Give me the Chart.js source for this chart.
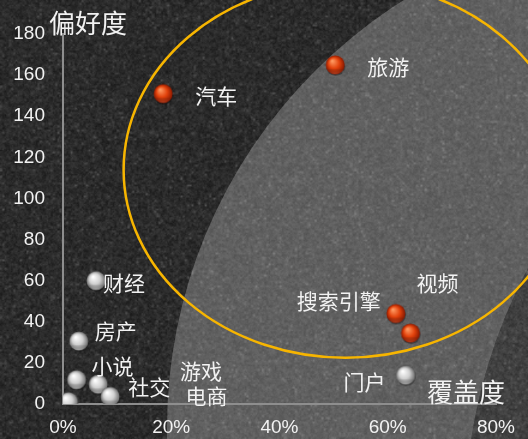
<!DOCTYPE html>
<html>
<head>
<meta charset="utf-8">
<script src="https://cdn.jsdelivr.net/npm/chart.js@4/dist/chart.umd.min.js"></script>
<style>
  html, body { margin: 0; padding: 0; background: #2a2a2a; }
  #wrap { width: 528px; height: 439px; }
</style>
</head>
<body>
<div id="wrap"><canvas id="chart" width="528" height="439"></canvas></div>
<script>
// coverage (%) vs preference, two groups of categories
const hotNames = ['汽车', '旅游', '搜索引擎', '视频'];
const hotCoverage = [18.5, 50.3, 61.5, 64.2];
const hotPreference = [151, 165, 44, 34.5];

const otherNames = ['门户', '财经', '房产', '小说', '社交', '游戏', '电商'];
const otherCoverage = [63.3, 6.1, 2.9, 2.5, 6.5, 8.7, 1.0];
const otherPreference = [14, 60, 30.6, 11.8, 9.6, 3.7, 1.1];

const xTicks = [0, 20, 40, 60, 80];
const yTicks = [0, 20, 40, 60, 80, 100, 120, 140, 160, 180];

// where each name sits relative to its ball (px)
const labelOffset = {
  '汽车': [53, 2], '旅游': [53, 2], '搜索引擎': [-57, -13], '视频': [27, -50],
  '门户': [-41, 7], '财经': [28, 2], '房产': [37, -10], '小说': [36, -14],
  '社交': [51, 3], '游戏': [91, -25], '电商': [138, -6]
};

const TEXT = '#f2f2f2';
const CJK = '"Noto Sans CJK SC", "Noto Sans", sans-serif';

function mulberry32(a) {
  return function () {
    a |= 0; a = a + 0x6D2B79F5 | 0;
    let t = Math.imul(a ^ a >>> 15, 1 | a);
    t = t + Math.imul(t ^ t >>> 7, 61 | t) ^ t;
    return ((t ^ t >>> 14) >>> 0) / 4294967296;
  };
}

// one layer of grain, drawn small and stretched so the specks go soft
function grainLayer(w, h, step, base, spread, flecks, seed) {
  const rnd = mulberry32(seed);
  const sw = Math.ceil(w / step), sh = Math.ceil(h / step);
  const c = document.createElement('canvas');
  c.width = sw; c.height = sh;
  const g = c.getContext('2d');
  const img = g.createImageData(sw, sh);
  for (let i = 0; i < sw * sh; i++) {
    let v = base + (rnd() - 0.5) * spread;
    if (rnd() > 0.9) v += flecks * rnd();
    img.data[i * 4] = img.data[i * 4 + 1] = img.data[i * 4 + 2] = v;
    img.data[i * 4 + 3] = 255;
  }
  g.putImageData(img, 0, 0);
  return c;
}

function makeGrain(w, h) {
  const big = document.createElement('canvas');
  big.width = w; big.height = h;
  const b = big.getContext('2d');
  b.imageSmoothingEnabled = true;
  b.drawImage(grainLayer(w, h, 2.2, 42, 34, 50, 11), 0, 0, w, h);
  b.globalAlpha = 0.35;
  b.drawImage(grainLayer(w, h, 1.2, 44, 40, 30, 29), 0, 0, w, h);
  return big;
}

function makeBall(light, mid, dark, rim) {
  const c = document.createElement('canvas');
  c.width = 24; c.height = 24;
  const g = c.getContext('2d');
  const cx = 12, cy = 12, r = 9.5;
  g.fillStyle = 'rgba(0,0,0,0.35)';
  g.beginPath(); g.ellipse(cx + 0.5, cy + 1.5, r, r, 0, 0, Math.PI * 2); g.fill();
  const grad = g.createRadialGradient(cx - 3, cy - 4, 0.5, cx, cy, r);
  grad.addColorStop(0, light);
  grad.addColorStop(0.55, mid);
  grad.addColorStop(1, dark);
  g.fillStyle = grad;
  g.beginPath(); g.arc(cx, cy, r, 0, Math.PI * 2); g.fill();
  // soft reflection along the lower edge
  const lo = g.createLinearGradient(0, cy + 3, 0, cy + r);
  lo.addColorStop(0, 'rgba(0,0,0,0)');
  lo.addColorStop(1, rim);
  g.fillStyle = lo;
  g.beginPath(); g.arc(cx, cy, r - 0.5, 0.15 * Math.PI, 0.85 * Math.PI); g.fill();
  return c;
}

const redBall = makeBall('#ff9a62', '#e2420c', '#861800', 'rgba(255,120,80,0.45)');
const silverBall = makeBall('#ffffff', '#cfcfcf', '#6c6c6c', 'rgba(255,255,255,0.45)');

let grain = null;

const backdrop = {
  id: 'backdrop',
  beforeDraw(chart) {
    const { ctx, width, height } = chart;
    if (!grain) grain = makeGrain(width, height);
    ctx.save();
    ctx.drawImage(grain, 0, 0);
    // pale band sweeping in from the right, with a dimmer bite in the corner
    ctx.save();
    ctx.beginPath();
    ctx.rect(0, 0, width, height);
    ctx.arc(1000, 520, 535, 0, Math.PI * 2);
    ctx.clip('evenodd');
    ctx.beginPath();
    ctx.arc(672, 428, 505, 0, Math.PI * 2);
    ctx.fillStyle = 'rgba(255,255,255,0.25)';
    ctx.fill();
    ctx.restore();
    ctx.beginPath();
    ctx.arc(1000, 520, 535, 0, Math.PI * 2);
    ctx.fillStyle = 'rgba(255,255,255,0.1)';
    ctx.fill();
    ctx.restore();
  }
};

const highlight = {
  id: 'highlight',
  beforeDatasetsDraw(chart) {
    const { ctx, scales: { x, y } } = chart;
    const cx = x.getPixelForValue(52.2), cy = y.getPixelForValue(114);
    const rx = x.getPixelForValue(52.2 + 41) - cx;
    const ry = y.getPixelForValue(114) - y.getPixelForValue(114 + 91.5);
    ctx.save();
    ctx.strokeStyle = '#f7b500';
    ctx.lineWidth = 2.5;
    ctx.beginPath();
    ctx.ellipse(cx, cy, rx, ry, 0, 0, Math.PI * 2);
    ctx.stroke();
    ctx.restore();
  }
};

const nameTags = {
  id: 'nameTags',
  afterDatasetsDraw(chart) {
    const { ctx } = chart;
    ctx.save();
    ctx.fillStyle = TEXT;
    ctx.font = '21px ' + CJK;
    ctx.textAlign = 'center';
    ctx.textBaseline = 'middle';
    chart.data.datasets.forEach((ds, di) => {
      const meta = chart.getDatasetMeta(di);
      ds.names.forEach((name, i) => {
        const p = meta.data[i];
        const [dx, dy] = labelOffset[name];
        ctx.fillText(name, p.x + dx, p.y + dy);
      });
    });
    ctx.font = '26px ' + CJK;
    ctx.fillText('偏好度', 88, 23);
    ctx.fillText('覆盖度', 466, 392);
    ctx.restore();
  }
};

const toPoints = (xs, ys) => xs.map((v, i) => ({ x: v, y: ys[i] }));

new Chart(document.getElementById('chart'), {
  type: 'scatter',
  data: {
    datasets: [
      {
        label: '重点',
        names: hotNames,
        data: toPoints(hotCoverage, hotPreference),
        pointStyle: redBall,
        pointRadius: 10
      },
      {
        label: '其他',
        names: otherNames,
        data: toPoints(otherCoverage, otherPreference),
        pointStyle: silverBall,
        pointRadius: 10
      }
    ]
  },
  options: {
    responsive: false,
    animation: false,
    layout: { padding: { top: 34, right: 32, left: 0, bottom: 0 } },
    plugins: { legend: { display: false }, tooltip: { enabled: false } },
    scales: {
      x: {
        type: 'linear',
        min: 0, max: 80,
        afterBuildTicks: s => { s.ticks = xTicks.map(v => ({ value: v })); },
        afterFit: s => { s.height = 35; },
        ticks: {
          color: TEXT,
          padding: 12,
          font: { family: '"Liberation Sans", Arial, sans-serif', size: 19 },
          callback: v => v + '%'
        },
        grid: { display: false, drawTicks: false },
        border: { color: '#8e8e8e', width: 2 }
      },
      y: {
        min: 0, max: 180,
        afterBuildTicks: s => { s.ticks = yTicks.map(v => ({ value: v })); },
        afterFit: s => { s.width = 63; },
        ticks: {
          color: TEXT,
          padding: 18,
          font: { family: '"Liberation Sans", Arial, sans-serif', size: 19 }
        },
        grid: { display: false, drawTicks: false },
        border: { color: '#8e8e8e', width: 2 }
      }
    }
  },
  plugins: [backdrop, highlight, nameTags]
});
</script>
</body>
</html>
